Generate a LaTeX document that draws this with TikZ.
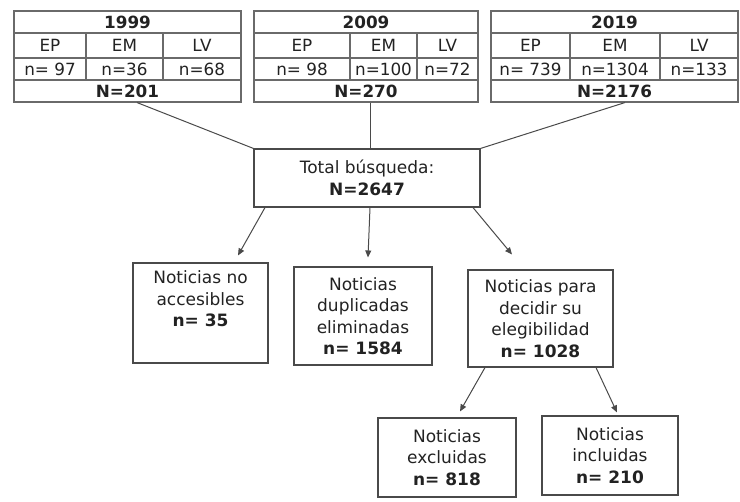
\documentclass[tikz,border=0pt]{standalone}
\usepackage{fontspec}
\setmainfont{DejaVu Sans}
\usetikzlibrary{arrows.meta}
\definecolor{ink}{HTML}{222222}
\definecolor{edge}{HTML}{4A4A4A}
\definecolor{grid}{HTML}{6A6A6A}
\begin{document}
\begin{tikzpicture}[x=1pt,y=-1pt,
  cell/.style={draw=grid, line width=1.1pt, inner sep=0pt, text=ink,
               font=\fontsize{16.8}{18}\selectfont},
  box/.style={draw=edge, line width=1.1pt, inner sep=0pt, align=center, text=ink,
              font=\fontsize{17}{21.5}\selectfont},
  conn/.style={draw=edge, line width=1pt},
  arr/.style={conn, -{Triangle[length=7pt,width=6pt]}}]
\useasboundingbox (0,0) rectangle (740,502);

% ---- 1999 ----
\node[cell, minimum width=227, minimum height=22] (t1y) at (127.5,22) {\textbf{1999}};
\node[cell, minimum width=72, minimum height=25] (t1a) at (50,45.5) {EP};
\node[cell, minimum width=77, minimum height=25] (t1b) at (124.5,45.5) {EM};
\node[cell, minimum width=78, minimum height=25] (t1c) at (202,45.5) {LV};
\node[cell, minimum width=72, minimum height=22] (t1d) at (50,69) {n= 97};
\node[cell, minimum width=77, minimum height=22] (t1e) at (124.5,69) {n=36};
\node[cell, minimum width=78, minimum height=22] (t1f) at (202,69) {n=68};
\node[cell, minimum width=227, minimum height=22] (t1N) at (127.5,91) {\textbf{N=201}};

% ---- 2009 ----
\node[cell, minimum width=224, minimum height=22] (t2y) at (366,22) {\textbf{2009}};
\node[cell, minimum width=96, minimum height=25] (t2a) at (302,45.5) {EP};
\node[cell, minimum width=67, minimum height=25] (t2b) at (383.5,45.5) {EM};
\node[cell, minimum width=61, minimum height=25] (t2c) at (447.5,45.5) {LV};
\node[cell, minimum width=96, minimum height=22] (t2d) at (302,69) {n= 98};
\node[cell, minimum width=67, minimum height=22] (t2e) at (383.5,69) {n=100};
\node[cell, minimum width=61, minimum height=22] (t2f) at (447.5,69) {n=72};
\node[cell, minimum width=224, minimum height=22] (t2N) at (366,91) {\textbf{N=270}};

% ---- 2019 ----
\node[cell, minimum width=247, minimum height=22] (t3y) at (614.5,22) {\textbf{2019}};
\node[cell, minimum width=79, minimum height=25] (t3a) at (530.5,45.5) {EP};
\node[cell, minimum width=90, minimum height=25] (t3b) at (615,45.5) {EM};
\node[cell, minimum width=78, minimum height=25] (t3c) at (699,45.5) {LV};
\node[cell, minimum width=79, minimum height=22] (t3d) at (530.5,69) {n= 739};
\node[cell, minimum width=90, minimum height=22] (t3e) at (615,69) {n=1304};
\node[cell, minimum width=78, minimum height=22] (t3f) at (699,69) {n=133};
\node[cell, minimum width=247, minimum height=22] (t3N) at (614.5,91) {\textbf{N=2176}};

% ---- flow boxes ----
\node[box, minimum width=226, minimum height=58] (total) at (367,178)
  {Total búsqueda:\\\textbf{N=2647}};
\node[box, minimum width=135, minimum height=100] (acc) at (200.5,313)
  {Noticias no\\accesibles\\\textbf{n= 35}\\\strut};
\node[box, minimum width=138, minimum height=98] (dup) at (363,316)
  {Noticias\\duplicadas\\eliminadas\\\textbf{n= 1584}};
\node[box, minimum width=145, minimum height=97] (para) at (540.5,318.5)
  {Noticias para\\decidir su\\elegibilidad\\\textbf{n= 1028}};
\node[box, minimum width=138, minimum height=79] (exc) at (447,457.5)
  {Noticias\\excluidas\\\textbf{n= 818}};
\node[box, minimum width=136, minimum height=79] (inc) at (610,455.5)
  {Noticias\\incluidas\\\textbf{n= 210}};

% ---- connectors ----
\draw[conn] ([xshift=9.5pt]t1N.south) -- (total.north west);
\draw[conn] ([xshift=4pt]t2N.south) -- ([xshift=3pt]total.north);
\draw[conn] ([xshift=10.5pt]t3N.south) -- (total.north east);

\draw[arr] ([xshift=-102pt]total.south) -- ([xshift=37.5pt,yshift=7pt]acc.north);
\draw[arr] ([xshift=3pt]total.south) -- ([xshift=5pt,yshift=9pt]dup.north);
\draw[arr] ([xshift=106pt]total.south) -- ([xshift=-28.5pt,yshift=15pt]para.north);
\draw[arr] ([xshift=-55.5pt]para.south) -- ([xshift=13pt,yshift=6pt]exc.north);
\draw[arr] ([xshift=55.5pt]para.south) -- ([xshift=7pt,yshift=3pt]inc.north);
\end{tikzpicture}
\end{document}
